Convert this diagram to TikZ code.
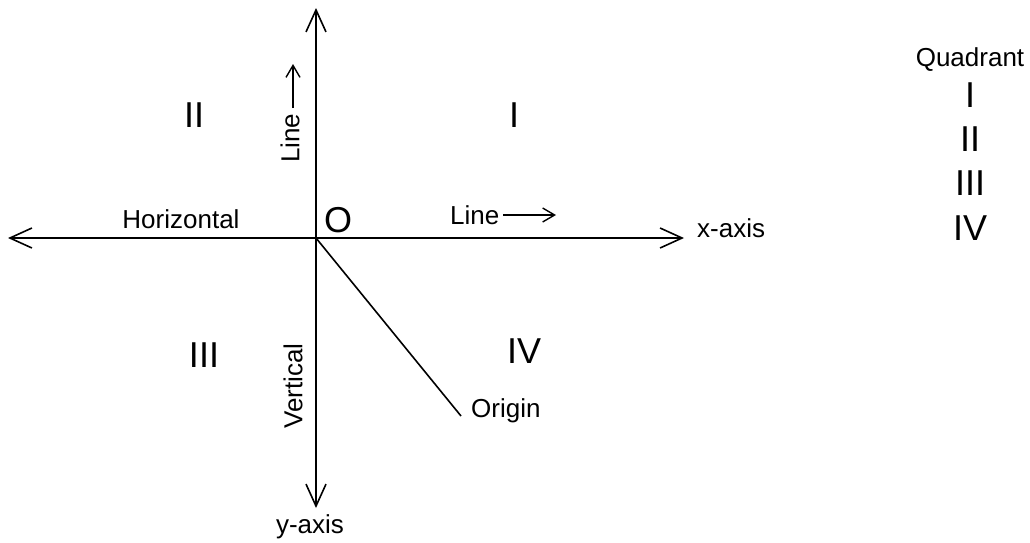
\documentclass[tikz,border=0pt]{standalone}
\usepackage{fontspec}
\setmainfont{Liberation Sans}
\usetikzlibrary{arrows.meta}
\begin{document}
\begin{tikzpicture}[x=1pt,y=-1pt,
  axis/.style={line width=1.8pt,-{Straight Barb[length=22pt,width=20pt,line width=1.6pt]}},
  small/.style={line width=1.5pt,-{Straight Barb[length=12pt,width=14pt,line width=1.4pt]}},
  lbl/.style={font=\fontsize{26}{28}\selectfont,inner sep=0pt},
  quad/.style={font=\fontsize{36}{38}\selectfont,inner sep=0pt}]
\useasboundingbox (0,0) rectangle (1030,542);
\coordinate (O) at (316,238);
\coordinate (top) at (316,8);
\coordinate (bot) at (316,508);
\coordinate (left) at (8,238);
\coordinate (right) at (684,238);
\coordinate (diag) at (461,416);
\draw[axis] (O) -- (top);
\draw[axis] (O) -- (bot);
\draw[axis] (O) -- (left);
\draw[axis] (O) -- (right);
\draw[line width=1.6pt] (O) -- (diag);
\node[lbl,anchor=west] (xl) at (697,228) {x-axis};
\node[lbl] (yl) at (310,527) {y-axis};
\node[lbl,anchor=west] (ol) at (471,411) {Origin};
\node[quad] (Olbl) at (338,220) {O};
\node[quad] (q2) at (194,115) {II};
\node[quad] (q1) at (514,115) {I};
\node[quad] (q3) at (204,355) {III};
\node[quad] (q4) at (524,351) {IV};
\node[lbl] (hz) at (181,219) {Horizontal};
\node[lbl,anchor=west] (lh) at (450,215) {Line};
\coordinate (lha) at (503,215);
\coordinate (lhb) at (556,215);
\draw[small] (lha) -- (lhb);
\node[lbl,rotate=90,anchor=west] (lv) at (290,163) {Line};
\coordinate (lva) at (293,108);
\coordinate (lvb) at (293,64);
\draw[small] (lva) -- (lvb);
\node[lbl,rotate=90] (vt) at (293,386) {Vertical};
\node[lbl,anchor=base] (qh) at (970,66) {Quadrant};
\node[quad] (r1) at (970,95) {I};
\node[quad] (r2) at (970,139) {II};
\node[quad] (r3) at (970,183) {III};
\node[quad] (r4) at (970,228) {IV};
\end{tikzpicture}
\end{document}
